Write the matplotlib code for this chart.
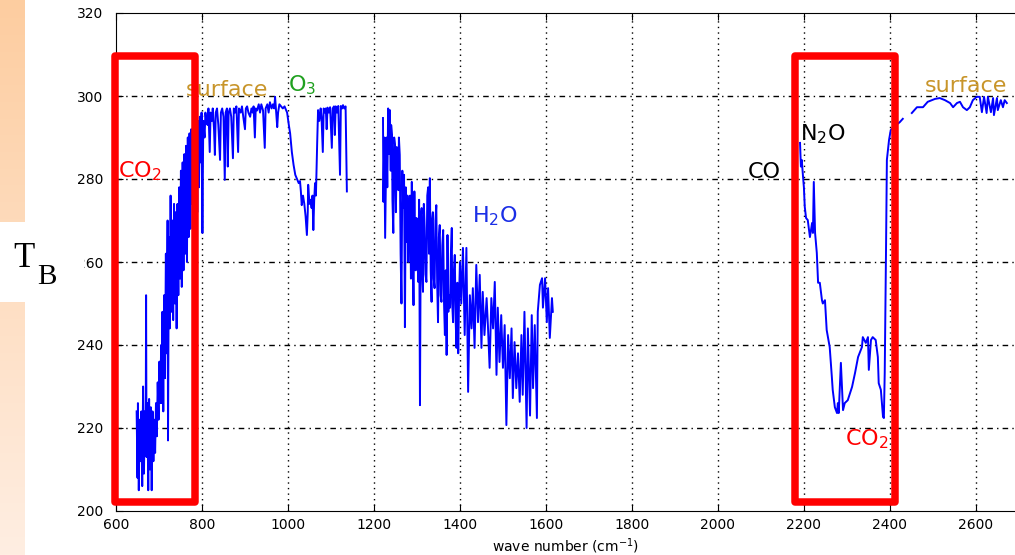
"""Brightness temperature spectrum with absorption bands boxed."""

import matplotlib
matplotlib.use("Agg")
import matplotlib.pyplot as plt
import numpy as np
from matplotlib.patches import Rectangle

# ---------------------------------------------------------------------------
# Data
# ---------------------------------------------------------------------------
# long-wave window: CO2 band, window, O3 band
wn_lw = [648, 650, 651, 653, 655, 657, 659, 661, 663, 665, 667, 669, 670, 671,
         673, 675, 677, 679, 681, 683, 685, 687, 689, 691, 693, 695, 697, 699,
         701, 703, 705, 706, 708, 710, 712, 714, 716, 718, 720, 721, 723, 725,
         727, 729, 731, 733, 735, 737, 739, 741, 743, 745, 747, 749, 751, 753,
         755, 757, 759, 761, 763, 765, 767, 769, 771, 773, 775, 777, 779, 781,
         783, 785, 787, 789, 791, 793, 795, 797, 799, 801, 803, 806, 808,
         810, 813, 815, 818, 820, 823, 825, 828, 830, 832, 835, 838, 842, 844,
         847, 850, 853, 855, 858, 860, 862, 865, 868, 872, 874, 877, 880, 884,
         886, 890, 893, 896, 900, 902, 905, 908, 912, 915, 918, 920, 923, 925,
         928, 932, 935, 938, 942, 946, 948, 952, 955, 958, 962, 965, 968, 970,
         972, 975, 977, 980, 984, 988, 992, 996, 998, 1002, 1005, 1009, 1013,
         1017, 1021, 1025, 1028, 1030, 1032, 1035, 1038, 1041, 1044, 1046,
         1047, 1050, 1052, 1055, 1057, 1059, 1061, 1063, 1065, 1067, 1068,
         1070, 1073, 1076, 1078, 1081, 1083, 1086, 1088, 1090, 1092, 1095,
         1098, 1102, 1104, 1107, 1109, 1111, 1114, 1117, 1121, 1123, 1126,
         1128, 1131, 1134, 1137]
tb_lw = [224, 208, 226, 205, 222, 212, 224, 206, 230, 209, 224, 215, 252, 213,
         226, 205, 227, 210, 225, 205, 224, 212, 222, 214, 226, 218, 231, 222,
         236, 226, 240, 226, 248, 224, 252, 232, 262, 238, 270, 217, 266, 244,
         276, 248, 270, 246, 274, 250, 272, 244, 274, 252, 278, 256, 282, 254,
         284, 258, 286, 262, 288, 260, 290, 266, 291, 268, 292, 274, 293, 270,
         294, 276, 295, 272, 294, 278, 295, 284, 296, 267, 294, 290, 296,
         294, 293, 297, 286.5, 296, 294, 297, 292, 285.8, 296, 297, 293, 284.6,
         296, 297, 295, 279.8, 296, 297, 283, 296, 297, 295, 285, 297, 296,
         297.5, 286.5, 297, 296, 297.5, 295, 292, 297, 297.5, 296, 295, 297,
         296, 297.5, 290, 297, 296.5, 298, 296, 298, 296.5, 287.5, 297, 298,
         296, 298.5, 297, 298, 297, 299.8, 297, 292.5, 296, 298, 297.5, 297,
         297.5, 296.5, 296, 293, 291, 286.5, 283.4, 281, 280, 279, 279.5, 277,
         273.7, 276, 274, 271, 266.5, 272, 278.6, 274, 275, 273, 276, 267.7,
         275, 279, 276, 285, 289, 296.6, 294, 297, 295, 286.5, 297, 296, 297,
         292, 297.2, 296, 297.3, 287.5, 297, 297.5, 290.6, 297.5, 296, 297.6,
         281, 297.6, 297, 297.8, 297, 297.5, 277]

# water-vapour band
wn_h2o = [1221, 1222, 1224, 1226, 1229, 1231, 1233, 1235, 1237, 1239, 1240,
          1242, 1243, 1245, 1247, 1249, 1251, 1253, 1255, 1257, 1258, 1260,
          1262, 1264, 1266, 1268, 1270, 1272, 1274, 1276, 1278, 1280, 1282,
          1284, 1286, 1288, 1290, 1292, 1294, 1295, 1297, 1299, 1301, 1303,
          1305, 1307, 1309, 1311, 1312, 1314, 1316, 1318, 1320, 1322, 1324,
          1326, 1328, 1330, 1332, 1334, 1335, 1337, 1339, 1341, 1343, 1345,
          1347, 1349, 1351, 1353, 1355, 1357, 1359, 1361, 1363, 1365, 1367,
          1369, 1371, 1373, 1374, 1377, 1379, 1381, 1382, 1384, 1386, 1388,
          1390, 1392, 1394, 1396, 1398, 1400, 1403, 1407, 1411, 1415, 1419,
          1423, 1427, 1430, 1434, 1438, 1442, 1446, 1450, 1453, 1457, 1462,
          1465, 1469, 1473, 1477, 1481, 1485, 1488, 1492, 1496, 1500, 1504,
          1508, 1512, 1516, 1520, 1523, 1527, 1531, 1535, 1539, 1543, 1546,
          1550, 1555, 1558, 1563, 1567, 1570, 1574, 1579, 1581, 1586, 1591,
          1593, 1598, 1602, 1605, 1609, 1614, 1616]
tb_h2o = [294.7, 274.5, 290, 265.8, 290, 278, 297, 286, 296.6, 282, 293,
          290.6, 275, 267, 290, 288.2, 272, 287.7, 280, 277.3, 290, 285.8,
          262, 250, 282, 273, 281, 244.3, 278, 264.8, 276, 260, 273,
          276, 256, 279.3, 262, 249.6, 277, 268, 258, 270.6, 262, 255.2,
          275, 225.5, 271, 273, 258, 252.8, 274, 268.2, 257, 255.2, 276,
          278, 262, 280.2, 258, 250.4, 270, 272, 256, 253.7, 270, 273.7,
          255, 245.5, 266, 268.9, 252, 250.4, 264, 267.7, 250, 242.4, 258,
          237.6, 266.5, 248, 252, 249, 262, 268.2, 250, 245.5, 258, 261.7,
          246, 239.3, 255, 238, 252, 260, 250, 263.4, 242.4, 263.4, 228.7,
          252, 244, 253.7, 239.3, 259.3, 245.5, 256.9, 239.3, 252.8, 242.4,
          251.3, 244.8, 234.5, 251.3, 244, 255.2, 232.8, 249, 235.9, 247.2,
          234.5, 244.8, 220.7, 242.4, 232, 244, 227.2, 240.7, 229.6, 238,
          226.3, 242.4, 228, 248, 220, 244, 223, 247.2, 229.6, 244.8, 222.4,
          248, 254.5, 256.1, 249, 256.1, 245.5, 253.7, 241.7, 251.3, 248]

# short-wave part: CO / N2O / CO2 band and surface window (nan = data gap)
wn_sw = [2191, 2193, 2195, 2198, 2200, 2202, 2205, 2209, 2214, 2219, 2221,
         2223, 2226, 2230, 2233, 2237, 2242, 2244, 2249, 2253, 2260, 2265,
         2267, 2272, 2277, 2279, 2281, 2286, 2291, 2295, 2302, 2312, 2319,
         2326, 2335, 2337, 2344, 2349, 2351, 2356, 2360, 2367, 2372, 2374,
         2379, 2384, 2386, 2388, 2391, 2393, 2398, 2402, 2412, 2423, 2430,
         2440, 2451, 2463, 2477, 2488, 2505, 2516, 2528, 2540, 2547, 2556,
         2563, 2570, 2579, 2586, 2593, 2602, 2609, 2614, 2619, 2625, 2628,
         2635, 2640, 2642, 2649, 2651, 2658, 2663, 2667, 2672]
tb_sw = [288.7, 283, 284.6, 280.5, 278, 273.3, 270.6, 270.1, 266, 269.4, 267,
         279.3, 267, 262.2, 255, 255, 250.8, 250, 250.8, 243.6, 239.5, 232.3,
         229.2, 225, 223.6, 226, 223.6, 235.7, 224.3, 226, 226.7, 229.9, 233.3,
         237.1, 239.5, 241.9, 240.5, 241.9, 234, 241.2, 241.9, 241.2, 237.1,
         230.8, 229.2, 222.7, 222.4, 233.3, 262.9, 284.6, 289.4, 291.8, 292.8,
         293.7, 294.5, np.nan, 295.9, 297.3, 297.3, 298.6, 299.3, 299.5, 299,
         298.3, 297.3, 298.3, 298.6, 297.3, 296.6, 297.3, 299, 299.8, 299.8,
         296.1, 299.8, 295.9, 299.8, 296.1, 299.5, 295.4, 299.5, 296.6, 299,
         297.3, 299, 298.3]

x_ticks = [600, 800, 1000, 1200, 1400, 1600, 1800, 2000, 2200, 2400, 2600]
y_ticks = [200, 220, 240, 260, 280, 300, 320]

# boxed bands: (wn_left, wn_right, tb_bottom, tb_top)
boxes = [(597.7, 783.7, 202.2, 309.6), (2179.8, 2412.8, 202.2, 309.6)]

# species labels: (text, wn, tb, colour)
labels = [
    ("CO$_2$", 604.7, 280.5, "#ff0000"),
    ("surface", 763, 300.0, "#c8952a"),
    ("O$_3$", 1000, 301.2, "#1fa01f"),
    ("H$_2$O", 1428, 269.6, "#1a2ee6"),
    ("CO", 2070, 280.2, "black"),
    ("N$_2$O", 2191, 289.4, "black"),
    ("CO$_2$", 2295, 215.9, "#ff0000"),
    ("surface", 2481, 301.0, "#c8952a"),
]

W, H = 1015, 555


def main() -> None:
    fig = plt.figure(figsize=(W / 100, H / 100), dpi=100)

    # ---- left decoration strip (orange gradient) ----
    strip = fig.add_axes([0, 0, 25 / W, 1])
    grad = np.linspace(0, 1, 256)[:, None]
    top = np.array([253, 205, 160]) / 255
    bot = np.array([255, 238, 226]) / 255
    img = top[None, None, :] * (1 - grad[..., None]) + bot[None, None, :] * grad[..., None]
    strip.imshow(img, aspect="auto", extent=(0, 1, 0, 1))
    strip.set_axis_off()

    # ---- main axes ----
    ax = fig.add_axes([116 / W, 44 / H, (W - 116) / W, (511 - 13) / H])
    for wn, tb in [(wn_lw, tb_lw), (wn_h2o, tb_h2o), (wn_sw, tb_sw)]:
        ax.plot(wn, tb, color="#0000ff", lw=1.4, zorder=3)

    ax.set_xlim(600, 2691)
    ax.set_ylim(200, 320)
    ax.set_xticks(x_ticks)
    ax.set_yticks(y_ticks)
    ax.tick_params(direction="in", length=5, labelsize=10, top=True)
    ax.tick_params(axis="y", pad=9)
    ax.tick_params(axis="x", pad=5)
    ax.spines["right"].set_visible(False)

    for x in x_ticks[1:]:
        ax.axvline(x, color="black", ls=(0, (1, 3)), lw=1.0, zorder=1)
    for y in y_ticks[1:-1]:
        ax.axhline(y, color="black", ls=(0, (4, 3, 1, 3)), lw=1.0, zorder=1)

    ax.set_xlabel("wave number (cm$^{-1}$)", fontsize=10)
    ax.xaxis.set_label_coords(0.5, -0.052)

    for x0, x1, y0, y1 in boxes:
        ax.add_patch(Rectangle((x0, y0), x1 - x0, y1 - y0, fill=False,
                               ec="#ff0000", lw=5.4, joinstyle="round",
                               clip_on=False, zorder=5))

    for txt, x, y, col in labels:
        ax.text(x, y, txt, color=col, fontsize=16, ha="left", va="baseline",
                zorder=4)

    # ---- T_B box over the y-axis label area ----
    fig.patches.append(Rectangle((0, 1 - 302 / H), 84 / W, 80 / H,
                                 transform=fig.transFigure, fc="white",
                                 ec="none", zorder=10))
    fig.text(13 / W, 1 - 267 / H, "T", family="Liberation Serif", fontsize=25,
             va="baseline", zorder=11)
    fig.text(37 / W, 1 - 284 / H, "B", family="Liberation Serif", fontsize=21,
             va="baseline", zorder=11)

    fig.savefig("out.png", dpi=100)
    plt.close(fig)


if __name__ == "__main__":
    main()
